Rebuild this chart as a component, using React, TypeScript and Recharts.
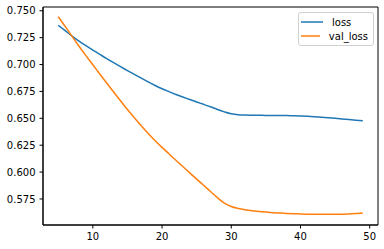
import React from "react";
import { LineChart, Line, XAxis, YAxis, ReferenceArea } from "recharts";

const epochs = [5,6,7,8,9,10,11,12,13,14,15,16,17,18,19,20,21,22,23,24,25,26,27,28,29,30,31,32,33,34,35,36,37,38,39,40,41,42,43,44,45,46,47,48,49];
const loss = [0.7365,0.7315,0.7265,0.7218,0.7175,0.7135,0.7095,0.7055,0.7017,0.698,0.6944,0.6908,0.6873,0.6838,0.6805,0.6775,0.6748,0.6722,0.6698,0.6675,0.6652,0.663,0.6607,0.6582,0.656,0.6542,0.6533,0.653,0.6529,0.6528,0.6527,0.6527,0.6526,0.6525,0.6524,0.6522,0.6519,0.6515,0.651,0.6505,0.65,0.6494,0.6488,0.6482,0.6477];
const valLoss = [0.7445,0.7355,0.7262,0.717,0.7083,0.6998,0.6912,0.6828,0.6745,0.6663,0.6582,0.6505,0.643,0.6358,0.6292,0.623,0.617,0.611,0.6052,0.5993,0.5935,0.5878,0.582,0.5762,0.5712,0.568,0.5662,0.565,0.5641,0.5634,0.5628,0.5623,0.5619,0.5616,0.5613,0.5611,0.5609,0.5608,0.5607,0.5607,0.5607,0.5608,0.561,0.5614,0.5619];
const xTicks = [10, 20, 30, 40, 50];
const yTicks = [0.575, 0.6, 0.625, 0.65, 0.675, 0.7, 0.725, 0.75];
const seriesNames = ["loss", "val_loss"];

const data = epochs.map((e, i) => ({ epoch: e, loss: loss[i], val_loss: valLoss[i] }));

const X_DOMAIN: [number, number] = [2.8, 51.2];
const Y_DOMAIN: [number, number] = [0.5508, 0.7535];

const BLUE = "#1f77b4";
const ORANGE = "#ff7f0e";
const FONT = "'DejaVu Sans', sans-serif";
const tickStyle = { fontSize: 10, fill: "#000", fontFamily: FONT };

const LegendBox = () => (
  <div
    style={{
      position: "absolute",
      left: 298,
      top: 12,
      border: "1px solid #d0d0d0",
      borderRadius: 3,
      background: "rgba(255,255,255,0.8)",
      padding: "2px 5px 2px 2px",
      fontFamily: FONT,
      fontSize: 10,
      color: "#000",
      width: 76,
      boxSizing: "border-box",
    }}
  >
    {seriesNames.map((n, i) => (
      <div key={n} style={{ display: "flex", alignItems: "center", height: 14 }}>
        <svg width={22} height={4} style={{ marginRight: 9 }}>
          <line x1={0} y1={2} x2={22} y2={2} stroke={i === 0 ? BLUE : ORANGE} strokeWidth={1.5} />
        </svg>
        <span>{n}</span>
      </div>
    ))}
  </div>
);

export default function App() {
  return (
    <div style={{ position: "absolute", left: 0, top: 0, width: 384, height: 249 }}>
      <style>{"body{margin:0}"}</style>
      <LineChart width={384} height={249} data={data} margin={{ top: 7, right: 6, left: 0, bottom: 0 }}>
        <XAxis
          dataKey="epoch"
          type="number"
          domain={X_DOMAIN}
          ticks={xTicks}
          allowDataOverflow
          height={24}
          tickSize={3.5}
          tickMargin={4}
          tick={tickStyle}
          axisLine={{ stroke: "#000", strokeWidth: 1 }}
          tickLine={{ stroke: "#000" }}
        />
        <YAxis
          type="number"
          domain={Y_DOMAIN}
          ticks={yTicks}
          allowDataOverflow
          width={43}
          tickSize={3.5}
          tickMargin={4}
          tick={tickStyle}
          tickFormatter={(v: number) => v.toFixed(3)}
          axisLine={{ stroke: "#000", strokeWidth: 1 }}
          tickLine={{ stroke: "#000" }}
        />
        <ReferenceArea
          x1={X_DOMAIN[0]}
          x2={X_DOMAIN[1]}
          y1={Y_DOMAIN[0]}
          y2={Y_DOMAIN[1]}
          fill="none"
          stroke="#000"
          strokeWidth={1}
          ifOverflow="visible"
        />
        <Line type="monotone" dataKey="loss" name="loss" stroke={BLUE} strokeWidth={1.5} dot={false} isAnimationActive={false} />
        <Line type="monotone" dataKey="val_loss" name="val_loss" stroke={ORANGE} strokeWidth={1.5} dot={false} isAnimationActive={false} />
      </LineChart>
      <LegendBox />
    </div>
  );
}
